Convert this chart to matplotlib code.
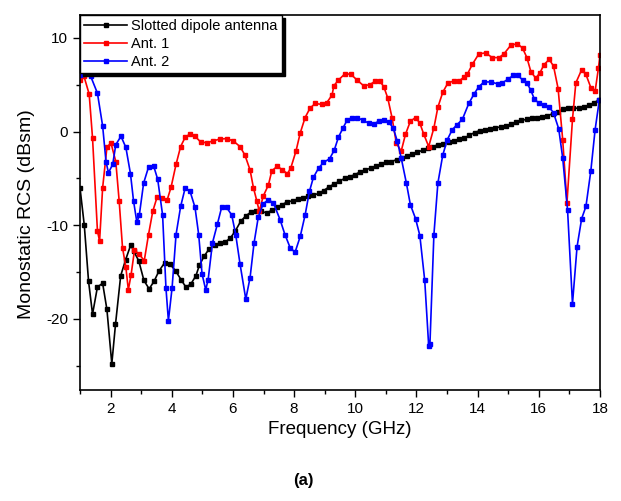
import matplotlib
matplotlib.use("Agg")
import matplotlib.pyplot as plt
from matplotlib.ticker import MultipleLocator

plt.rcParams['font.family'] = ['Liberation Sans', 'DejaVu Sans']
plt.rcParams['axes.unicode_minus'] = False

# ---- data ----
black_f = [1.0, 1.14, 1.28, 1.41, 1.57, 1.74, 1.88, 2.04, 2.16, 2.33, 2.49, 2.66, 2.76,
           2.92, 3.09, 3.26, 3.42, 3.58, 3.77, 3.93, 4.13, 4.30, 4.46, 4.62, 4.79, 4.90,
           5.06, 5.23, 5.40, 5.57, 5.74, 5.91, 6.08, 6.25, 6.42, 6.59, 6.76, 6.93, 7.10,
           7.27, 7.44, 7.61, 7.78, 7.95, 8.12, 8.29, 8.46, 8.63, 8.80, 8.97, 9.14, 9.31,
           9.48, 9.65, 9.82, 9.99, 10.16, 10.33, 10.50, 10.67, 10.84, 11.01, 11.18, 11.35,
           11.52, 11.69, 11.86, 12.03, 12.20, 12.37, 12.54, 12.71, 12.88, 13.05, 13.22,
           13.39, 13.56, 13.73, 13.90, 14.07, 14.24, 14.41, 14.58, 14.75, 14.92, 15.09,
           15.26, 15.43, 15.60, 15.77, 15.94, 16.11, 16.28, 16.45, 16.62, 16.79, 16.96,
           17.13, 17.30, 17.47, 17.64, 17.81, 17.98]
black_v = [-6.0, -10.0, -16.0, -19.5, -16.6, -16.2, -19.0, -24.8, -20.6, -15.4, -13.7, -12.1, -12.8,
           -13.8, -15.9, -16.8, -16.0, -14.9, -14.0, -14.1, -14.9, -15.8, -16.6, -16.3, -15.4, -14.3,
           -13.3, -12.5, -12.1, -11.9, -11.8, -11.4, -10.6, -9.6, -9.0, -8.6, -8.5, -8.5, -8.7,
           -8.4, -8.1, -7.8, -7.5, -7.4, -7.2, -7.1, -6.9, -6.8, -6.6, -6.3, -5.9, -5.6,
           -5.3, -5.0, -4.8, -4.6, -4.3, -4.1, -3.9, -3.7, -3.5, -3.3, -3.2, -3.0,
           -2.8, -2.6, -2.4, -2.2, -2.0, -1.8, -1.6, -1.4, -1.3, -1.1, -1.0,
           -0.8, -0.7, -0.4, -0.1, 0.1, 0.2, 0.3, 0.4, 0.5, 0.6, 0.8,
           1.0, 1.2, 1.3, 1.4, 1.5, 1.6, 1.7, 1.9, 2.1, 2.4, 2.5,
           2.5, 2.5, 2.6, 2.8, 3.1, 3.4]

ant1_f = [1.0, 1.13, 1.30, 1.41, 1.57, 1.64, 1.74, 1.88, 2.01, 2.17, 2.28, 2.39, 2.50, 2.58,
          2.67, 2.78, 2.94, 3.10, 3.24, 3.38, 3.52, 3.68, 3.85, 3.98, 4.14, 4.29, 4.44, 4.60,
          4.76, 4.94, 5.14, 5.35, 5.57, 5.79, 6.01, 6.23, 6.39, 6.56, 6.67, 6.78, 6.86, 6.99,
          7.16, 7.27, 7.45, 7.62, 7.78, 7.89, 8.06, 8.20, 8.36, 8.52, 8.69, 8.91, 9.07, 9.24,
          9.30, 9.45, 9.67, 9.86, 10.06, 10.27, 10.47, 10.66, 10.80, 10.93, 11.06, 11.20,
          11.34, 11.50, 11.64, 11.80, 11.97, 12.11, 12.24, 12.40, 12.57, 12.70, 12.86, 13.03,
          13.22, 13.39, 13.55, 13.66, 13.83, 14.04, 14.26, 14.48, 14.70, 14.86, 15.08, 15.30,
          15.47, 15.61, 15.74, 15.90, 16.04, 16.17, 16.34, 16.48, 16.63, 16.78, 16.92, 17.10,
          17.21, 17.40, 17.54, 17.70, 17.84, 17.95, 18.0]
ant1_v = [5.5, 5.9, 4.0, -0.7, -10.6, -11.7, -6.0, -1.7, -1.2, -3.2, -7.4, -12.4, -14.5, -16.9,
          -15.3, -12.7, -13.1, -13.8, -11.0, -8.5, -7.0, -7.1, -7.3, -5.9, -3.5, -1.6, -0.6, -0.25,
          -0.5, -1.1, -1.2, -1.0, -0.8, -0.75, -1.0, -1.6, -2.5, -4.1, -6.0, -7.4, -8.5, -6.9,
          -5.7, -4.2, -3.7, -4.1, -4.5, -3.9, -2.1, -0.15, 1.5, 2.5, 3.0, 2.9, 3.1, 3.9,
          4.9, 5.5, 6.2, 6.1, 5.5, 4.9, 5.0, 5.4, 5.4, 4.8, 3.6, 1.5,
          -1.2, -2.1, -0.3, 1.1, 1.5, 0.9, -0.3, -1.6, 0.4, 2.6, 4.2, 5.2,
          5.4, 5.4, 5.8, 6.1, 7.2, 8.3, 8.4, 7.9, 7.9, 8.3, 9.2, 9.4,
          8.9, 7.9, 6.4, 5.7, 6.3, 7.15, 7.7, 7.0, 4.6, -0.85, -7.6, 1.3,
          5.2, 6.6, 6.1, 4.7, 4.3, 6.8, 8.2]

ant2_f = [1.0, 1.08, 1.35, 1.57, 1.74, 1.85, 1.93, 2.07, 2.17, 2.34, 2.50, 2.65, 2.75, 2.86,
          2.94, 3.08, 3.24, 3.41, 3.54, 3.70, 3.81, 3.89, 4.01, 4.14, 4.29, 4.44, 4.60, 4.76,
          4.88, 4.99, 5.11, 5.19, 5.33, 5.49, 5.63, 5.79, 5.96, 6.09, 6.23, 6.42, 6.56, 6.69,
          6.83, 6.99, 7.16, 7.32, 7.54, 7.70, 7.87, 8.03, 8.20, 8.36, 8.50, 8.63, 8.80, 8.96,
          9.16, 9.31, 9.45, 9.60, 9.73, 9.89, 10.06, 10.25, 10.44, 10.60, 10.76, 10.93, 11.09,
          11.24, 11.37, 11.50, 11.67, 11.80, 11.97, 12.11, 12.27, 12.40, 12.44, 12.57, 12.70,
          12.86, 13.01, 13.17, 13.33, 13.50, 13.71, 13.88, 14.04, 14.21, 14.43, 14.65, 14.81,
          14.99, 15.17, 15.32, 15.47, 15.61, 15.74, 15.85, 16.01, 16.17, 16.34, 16.48, 16.65,
          16.78, 16.94, 17.10, 17.25, 17.40, 17.54, 17.70, 17.84, 17.98]
ant2_v = [6.0, 6.1, 5.9, 4.1, 0.6, -3.2, -4.4, -3.5, -1.4, -0.5, -1.7, -4.5, -7.4, -9.7,
          -8.9, -5.5, -3.8, -3.7, -5.1, -8.9, -16.7, -20.2, -16.7, -11.0, -8.0, -6.0, -6.4, -8.1,
          -11.0, -15.2, -16.9, -15.8, -11.9, -9.9, -8.1, -8.1, -8.9, -11.0, -14.1, -17.9, -15.6, -11.9,
          -9.1, -7.7, -7.3, -7.6, -9.4, -11.0, -12.4, -12.9, -11.2, -8.9, -6.4, -4.9, -3.9, -3.3,
          -2.9, -2.0, -0.6, 0.4, 1.2, 1.5, 1.5, 1.2, 0.9, 0.8, 1.1, 1.2, 1.0,
          0.4, -1.0, -2.8, -5.5, -7.8, -9.3, -11.1, -15.9, -22.9, -22.7, -11.0, -5.5,
          -2.5, -0.85, 0.2, 0.75, 1.3, 3.0, 4.0, 4.8, 5.3, 5.3, 5.1, 5.2,
          5.6, 6.0, 6.0, 5.5, 5.2, 4.4, 3.5, 3.0, 2.8, 2.6, 2.0, 0.3,
          -2.8, -8.4, -18.4, -12.3, -9.3, -8.0, -4.2, 0.2, 3.4]

labels = ["Slotted dipole antenna", "Ant. 1", "Ant. 2"]
xticks = [2, 4, 6, 8, 10, 12, 14, 16, 18]
yticks = [-20, -10, 0, 10]

# ---- figure ----
fig = plt.figure(figsize=(6.21, 5.01), dpi=100)
ax = fig.add_axes([80 / 621, 1 - 390 / 501, 520 / 621, 375 / 501])

ms = 3.2
ax.plot(black_f, black_v, color='black', marker='s', ms=ms, lw=1.2, label=labels[0])
ax.plot(ant1_f, ant1_v, color='#ff0000', marker='s', ms=ms, lw=1.2, label=labels[1])
ax.plot(ant2_f, ant2_v, color='#0000ff', marker='s', ms=ms, lw=1.2, label=labels[2])

ax.set_xlim(1, 18)
ax.set_ylim(-27.6, 12.45)
ax.set_xticks(xticks)
ax.set_yticks(yticks)
ax.xaxis.set_minor_locator(MultipleLocator(1))
ax.yaxis.set_minor_locator(MultipleLocator(5))
ax.tick_params(which='major', direction='out', length=5, width=1, labelsize=11,
               top=False, right=False)
ax.tick_params(which='minor', direction='out', length=3, width=1, top=False, right=False)
for s in ax.spines.values():
    s.set_linewidth(1.2)

ax.set_xlabel("Frequency (GHz)", fontsize=13.5, labelpad=4)
ax.set_ylabel("Monostatic RCS (dBsm)", fontsize=14)
ax.yaxis.set_label_coords(-0.087, 0.47)

leg = ax.legend(loc='upper left', bbox_to_anchor=(0, 1), borderaxespad=0,
                fontsize=10.5, frameon=True, fancybox=False, edgecolor='black',
                framealpha=1, handlelength=2.9, handletextpad=0.3, labelspacing=0.25,
                borderpad=0.3, shadow={'color': 'black', 'alpha': 1})
leg.get_frame().set_linewidth(1.0)

fig.text(303 / 621, 1 - 480 / 501, "(a)", fontsize=12, fontweight='bold',
         ha='center', va='center')

fig.savefig("out.png", dpi=100)
